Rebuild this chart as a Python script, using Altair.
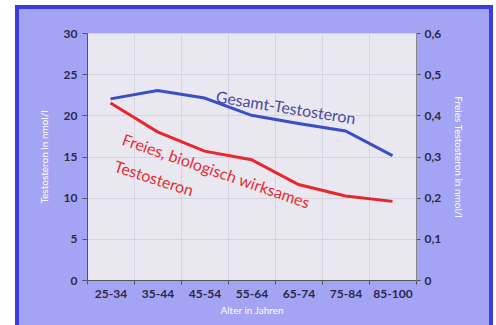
import altair as alt
import pandas as pd

ages = ["25-34", "35-44", "45-54", "55-64", "65-74", "75-84", "85-100"]
gesamt = [22.0, 23.0, 22.1, 20.0, 19.0, 18.1, 15.1]          # nmol/l, left axis
freies = [0.43, 0.36, 0.313, 0.292, 0.232, 0.204, 0.191]   # nmol/l, right axis

left_ticks = [0, 5, 10, 15, 20, 25, 30]
right_ticks = [0, 0.1, 0.2, 0.3, 0.4, 0.5, 0.6]

ann_text = ["Gesamt-Testosteron", "Freies, biologisch wirksames", "Testosteron"]
ann_age = ["65-74", "45-54", "35-44"]
ann_y = [20.6, 13.6, 12.1]
ann_grp = ["g", "f", "f"]

df_g = pd.DataFrame({"age": ages, "v": gesamt})
df_f = pd.DataFrame({"age": ages, "v": freies})
df_ann = pd.DataFrame({"age": ann_age, "v": ann_y, "t": ann_text, "g": ann_grp})

W, H = 329, 247
PL, PT, PR, PB = 87, 33, 80, 45

label_color = "#2a2a48"

xenc = alt.X(
    "age:N", sort=ages, bandPosition=0.5,
    scale=alt.Scale(type="band", paddingInner=0, paddingOuter=0),
    axis=alt.Axis(title="Alter in Jahren", labelAngle=0, tickBand="extent",
                  grid=True, gridColor="#d6d4de", domainColor="#555",
                  tickColor="#555", tickSize=4, labelPadding=4,
                  labelFontSize=12, labelFontWeight="bold", labelColor=label_color,
                  labelFont="Lato", titleFont="Lato", titleColor="white",
                  titleFontSize=10, titleFontWeight="normal", titlePadding=6),
)

left_y = alt.Y("v:Q", scale=alt.Scale(domain=[0, 30], nice=False),
               axis=alt.Axis(title="Testosteron in nmol/l", values=left_ticks,
                             grid=True, gridColor="#d6d4de", domainColor="#555",
                             tickColor="#555", tickSize=5, labelPadding=5,
                             labelFontSize=12, labelFontWeight="bold",
                             labelColor=label_color, labelFont="Lato",
                             titleFont="Lato", titleColor="white", titleFontSize=10,
                             titleFontWeight="normal", titlePadding=14))

right_y = alt.Y("v:Q", scale=alt.Scale(domain=[0, 0.6], nice=False),
                axis=alt.Axis(title="Freies Testosteron in nmol/l", orient="right",
                              values=right_ticks, grid=False, domainColor="#888",
                              tickColor="#555", tickSize=4, labelPadding=4,
                              labelExpr="replace(format(datum.value, '.1~f'), '.', ',')",
                              labelFontSize=12, labelFontWeight="bold",
                              labelColor=label_color, labelFont="Lato",
                              titleFont="Lato", titleColor="white", titleFontSize=10,
                              titleFontWeight="normal", titlePadding=12))

blue_line = alt.Chart(df_g).mark_line(color="#3a4ec6", strokeWidth=3).encode(x=xenc, y=left_y)

ann = alt.Chart(df_ann)
blue_txt = ann.transform_filter(alt.datum.g == "g").mark_text(
    font="Lato", fontSize=16, color="#4b4ba0", angle=9, dx=-13,
    align="center", baseline="middle").encode(
    x=alt.X("age:N", sort=ages, bandPosition=0.5), y="v:Q", text="t:N")
red_txt1 = ann.transform_filter(alt.datum.t == "Freies, biologisch wirksames").mark_text(
    font="Lato", fontSize=16, color="#e23038", angle=19, dx=12,
    align="center", baseline="middle").encode(
    x=alt.X("age:N", sort=ages, bandPosition=0.5), y="v:Q", text="t:N")
red_txt2 = ann.transform_filter(alt.datum.t == "Testosteron").mark_text(
    font="Lato", fontSize=16, color="#e23038", angle=18, dx=-4,
    align="center", baseline="middle").encode(
    x=alt.X("age:N", sort=ages, bandPosition=0.5), y="v:Q", text="t:N")

dummy = alt.Chart(pd.DataFrame({"d": [0]}))
white_frame = dummy.mark_rect(fill=None, stroke="white", strokeWidth=30).encode(
    x=alt.value(-PL), x2=alt.value(421), y=alt.value(-43), y2=alt.value(307))
blue_frame = dummy.mark_rect(fill=None, stroke="#3b3be2", strokeWidth=4).encode(
    x=alt.value(-70), x2=alt.value(404), y=alt.value(-26), y2=alt.value(297))

left_layer = alt.layer(blue_line, blue_txt, red_txt1, red_txt2, white_frame, blue_frame)
red_line = alt.Chart(df_f).mark_line(color="#e8262c", strokeWidth=3).encode(x=xenc, y=right_y)

chart = alt.layer(left_layer, red_line).resolve_scale(y="independent").properties(
    width=W, height=H,
    autosize=alt.AutoSizeParams(type="none"),
    padding={"left": PL, "top": PT, "right": PR, "bottom": PB},
    background="#a4a4f4",
).configure_view(fill="#e9e7ef", stroke="#8a8a96", strokeWidth=1)

chart.save("out.html", embed_options={"renderer": "svg", "actions": False})
